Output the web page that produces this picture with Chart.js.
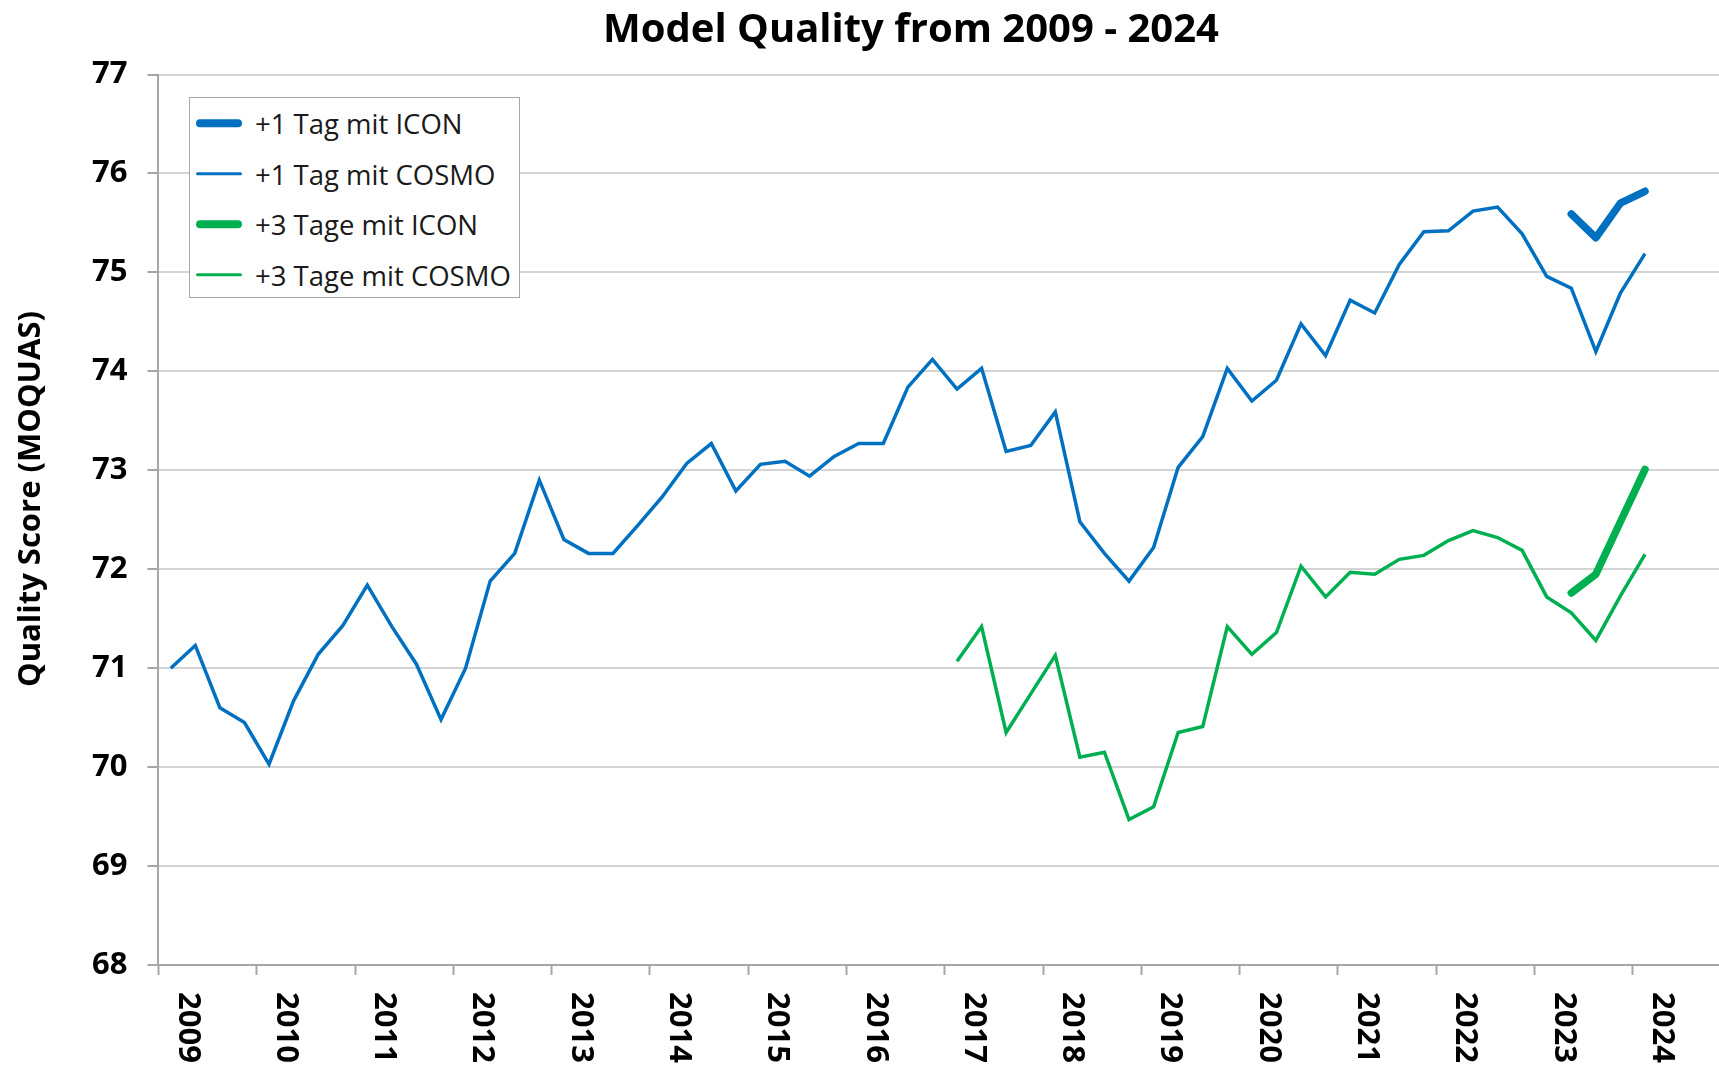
<!DOCTYPE html>
<html>
<head>
<meta charset="utf-8">
<title>Model Quality from 2009 - 2024</title>
<script src="https://cdn.jsdelivr.net/npm/chart.js@4.4.1/dist/chart.umd.min.js"></script>
<style>
  html, body { margin: 0; padding: 0; background: #fff; overflow: hidden; }
  #wrap { position: relative; width: 1823px; height: 1068px; }
  #legend {
    position: absolute; left: 189px; top: 97px; width: 329px; height: 199px;
    border: 1.5px solid #a6a6a6; background: #fff;
    font-family: "Open Sans", sans-serif; font-size: 27.5px; color: #1a1a1a;
  }
  .item { position: relative; height: 50.5px; }
  .item .sym { position: absolute; left: 6px; top: 50%; width: 46px; transform: translateY(-50%); border-radius: 4px; }
  .item .txt { position: absolute; left: 65px; top: 50%; transform: translateY(-50%); white-space: nowrap; }
</style>
</head>
<body>
<div id="wrap">
  <canvas id="myChart" width="1823" height="1068"></canvas>
  <div id="legend"></div>
</div>
<script>
// years on the axis, one label per year, 4 quarters each
const years = [2009, 2010, 2011, 2012, 2013, 2014, 2015, 2016, 2017, 2018, 2019, 2020, 2021, 2022, 2023, 2024];
const quarters = years.flatMap((yr) => [1, 2, 3, 4].map((q) => yr + " Q" + q));

const chartTitle = "Model Quality from 2009 - 2024";
const axisTitle = "Quality Score (MOQUAS)";

// +1 Tag mit COSMO, 2009 Q1 .. 2024 Q1
const cosmo1 = [
  71.00, 71.23, 70.60, 70.45, 70.03, 70.67, 71.14, 71.43,
  71.84, 71.42, 71.04, 70.48, 71.00, 71.88, 72.16, 72.90,
  72.30, 72.16, 72.16, 72.44, 72.73, 73.07, 73.27, 72.79,
  73.06, 73.09, 72.94, 73.14, 73.27, 73.27, 73.84, 74.12,
  73.82, 74.03, 73.19, 73.25, 73.59, 72.48, 72.16, 71.88,
  72.22, 73.03, 73.34, 74.03, 73.70, 73.91, 74.48, 74.16,
  74.72, 74.59, 75.08, 75.41, 75.42, 75.62, 75.66, 75.39,
  74.96, 74.84, 74.20, 74.79, 75.19
];

// +3 Tage mit COSMO, starts 2017 Q1
const cosmo3 = [
  null, null, null, null, null, null, null, null,
  null, null, null, null, null, null, null, null,
  null, null, null, null, null, null, null, null,
  null, null, null, null, null, null, null, null,
  71.07, 71.42, 70.35, 70.74, 71.13, 70.10, 70.15, 69.47,
  69.60, 70.35, 70.41, 71.42, 71.14, 71.36, 72.03, 71.72,
  71.97, 71.95, 72.10, 72.14, 72.29, 72.39, 72.32, 72.19,
  71.72, 71.56, 71.28, 71.73, 72.15
];

// ICON runs, 2023 Q2 .. 2024 Q1
const icon1 = new Array(57).fill(null).concat([75.59, 75.35, 75.70, 75.82]);
const icon3 = new Array(57).fill(null).concat([71.76, 71.95, 72.48, 73.01]);

const blue = "#0070c0";
const green = "#00b050";

Chart.defaults.font.family = "'Open Sans', sans-serif";

// title, rotated year labels and the y axis title
const axisText = {
  id: "axisText",
  afterDraw(chart) {
    const { ctx, scales: { x, y } } = chart;
    ctx.save();
    ctx.fillStyle = "#000";

    ctx.font = "bold 40px 'Open Sans'";
    ctx.textAlign = "center";
    ctx.textBaseline = "alphabetic";
    ctx.fillText(chartTitle, 911, 42);

    ctx.font = "bold 31px 'Open Sans'";
    ctx.textAlign = "left";
    ctx.textBaseline = "middle";
    years.forEach((yr, i) => {
      const px = x.getPixelForValue(i * 4 + 0.68);
      ctx.save();
      ctx.translate(px, y.bottom + 27);
      ctx.rotate(Math.PI / 2);
      ctx.fillText(String(yr), 0, 0);
      ctx.restore();
    });

    ctx.textAlign = "center";
    ctx.translate(31, 499);
    ctx.rotate(-Math.PI / 2);
    ctx.fillText(axisTitle, 0, 0);
    ctx.restore();
  }
};

const chart = new Chart(document.getElementById("myChart"), {
  type: "line",
  data: {
    labels: quarters,
    datasets: [
      { label: "+1 Tag mit ICON", data: icon1, borderColor: blue, borderWidth: 7.5, borderCapStyle: "round", borderJoinStyle: "round" },
      { label: "+1 Tag mit COSMO", data: cosmo1, borderColor: blue, borderWidth: 3.5 },
      { label: "+3 Tage mit ICON", data: icon3, borderColor: green, borderWidth: 7.5, borderCapStyle: "round", borderJoinStyle: "round" },
      { label: "+3 Tage mit COSMO", data: cosmo3, borderColor: green, borderWidth: 3.5 },
    ],
  },
  options: {
    responsive: false,
    animation: false,
    elements: { point: { radius: 0 }, line: { tension: 0 } },
    layout: { padding: { left: 72, right: 92, top: 74.5, bottom: 93 } },
    plugins: {
      legend: { display: false },
      tooltip: { enabled: false },
      title: { display: false },
    },
    scales: {
      x: {
        type: "category",
        offset: true,
        ticks: { display: false },
        grid: {
          drawOnChartArea: false,
          offset: true,
          tickLength: 10,
          tickColor: "#a6a6a6",
          tickWidth: (c) => (c.index % 4 === 0 ? 2 : 0),
        },
        border: { color: "#a6a6a6", width: 2 },
      },
      y: {
        min: 68,
        max: 77,
        ticks: { stepSize: 1, color: "#000", font: { size: 31, weight: "bold" }, padding: 20 },
        grid: { color: "#d4d4d4", lineWidth: 2, tickColor: "#a6a6a6", tickLength: 11, tickWidth: 2 },
        border: { color: "#a6a6a6", width: 2 },
      },
    },
  },
  plugins: [axisText],
});

// html legend, built from the datasets
const legendBox = document.getElementById("legend");
chart.data.datasets.forEach((ds) => {
  const row = document.createElement("div");
  row.className = "item";
  const sym = document.createElement("span");
  sym.className = "sym";
  sym.style.height = ds.borderWidth + "px";
  sym.style.background = ds.borderColor;
  const txt = document.createElement("span");
  txt.className = "txt";
  txt.innerText = ds.label;
  row.appendChild(sym);
  row.appendChild(txt);
  legendBox.appendChild(row);
});
</script>
</body>
</html>
